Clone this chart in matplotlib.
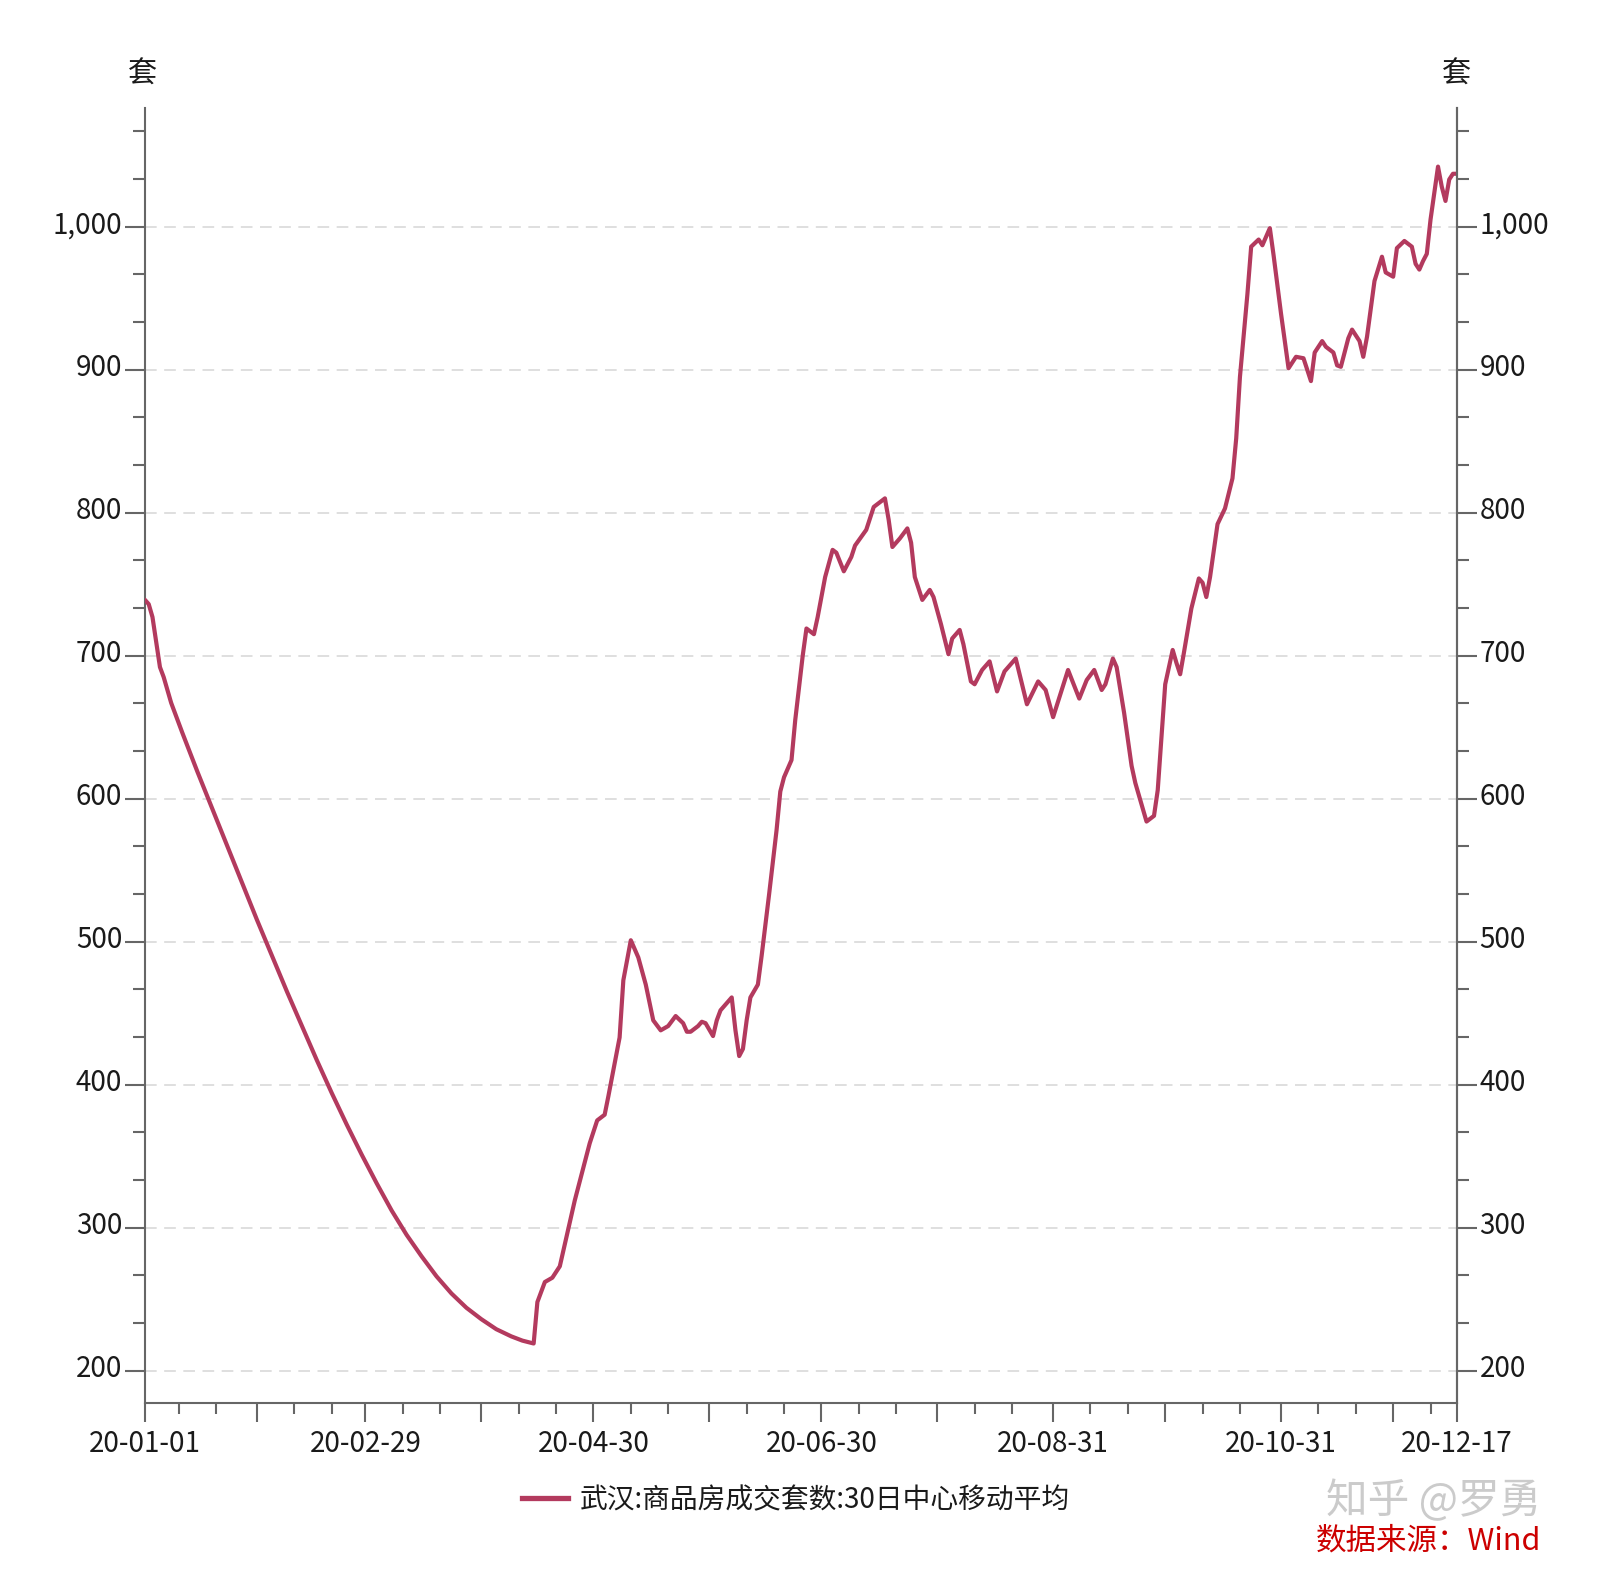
import matplotlib
matplotlib.use("Agg")
import matplotlib.pyplot as plt
import matplotlib.transforms as mtransforms
from matplotlib.lines import Line2D
from matplotlib.ticker import FuncFormatter, FixedLocator
import pandas as pd

plt.rcParams['font.family'] = ['Noto Sans CJK SC', 'DejaVu Sans']

# ---------------- data ----------------
dates = [
    "2020-01-01", "2020-01-02", "2020-01-03", "2020-01-05", "2020-01-06", "2020-01-08",
    "2020-01-11", "2020-01-15", "2020-01-19", "2020-01-23", "2020-01-27", "2020-01-31",
    "2020-02-04", "2020-02-08", "2020-02-12", "2020-02-16", "2020-02-20", "2020-02-24",
    "2020-02-28", "2020-03-03", "2020-03-07", "2020-03-11", "2020-03-15", "2020-03-19",
    "2020-03-23", "2020-03-27", "2020-03-31", "2020-04-04", "2020-04-08", "2020-04-11",
    "2020-04-14", "2020-04-15",
    "2020-04-17", "2020-04-19", "2020-04-21", "2020-04-23", "2020-04-25", "2020-04-26",
    "2020-04-29", "2020-05-01", "2020-05-03", "2020-05-04", "2020-05-07", "2020-05-08",
    "2020-05-10", "2020-05-12", "2020-05-14", "2020-05-16", "2020-05-18", "2020-05-20",
    "2020-05-22", "2020-05-24", "2020-05-25", "2020-05-26", "2020-05-28", "2020-05-29",
    "2020-05-30", "2020-06-01", "2020-06-02", "2020-06-03", "2020-06-05", "2020-06-06",
    "2020-06-07", "2020-06-08", "2020-06-09", "2020-06-10", "2020-06-11", "2020-06-13",
    "2020-06-14", "2020-06-16", "2020-06-18", "2020-06-19", "2020-06-20", "2020-06-22",
    "2020-06-23", "2020-06-25", "2020-06-26", "2020-06-28", "2020-06-29", "2020-07-01",
    "2020-07-03", "2020-07-04", "2020-07-06", "2020-07-08", "2020-07-09", "2020-07-12",
    "2020-07-14", "2020-07-15", "2020-07-17", "2020-07-18", "2020-07-19", "2020-07-21",
    "2020-07-23", "2020-07-24", "2020-07-25", "2020-07-27", "2020-07-29", "2020-07-30",
    "2020-08-01", "2020-08-03", "2020-08-04", "2020-08-06", "2020-08-07", "2020-08-09",
    "2020-08-10", "2020-08-12", "2020-08-14", "2020-08-16", "2020-08-18", "2020-08-21",
    "2020-08-24", "2020-08-27", "2020-08-29", "2020-08-31", "2020-09-04", "2020-09-07",
    "2020-09-09", "2020-09-11", "2020-09-13", "2020-09-14", "2020-09-16", "2020-09-17",
    "2020-09-19", "2020-09-21", "2020-09-22", "2020-09-25", "2020-09-27", "2020-09-28",
    "2020-09-30", "2020-10-02", "2020-10-03", "2020-10-04", "2020-10-05", "2020-10-07",
    "2020-10-09", "2020-10-10", "2020-10-11", "2020-10-12", "2020-10-14", "2020-10-16",
    "2020-10-18", "2020-10-19", "2020-10-20", "2020-10-22", "2020-10-23", "2020-10-25",
    "2020-10-26", "2020-10-28", "2020-10-29", "2020-10-31", "2020-11-02", "2020-11-04",
    "2020-11-06", "2020-11-08", "2020-11-09", "2020-11-11", "2020-11-12", "2020-11-14",
    "2020-11-15", "2020-11-16", "2020-11-18", "2020-11-19", "2020-11-21", "2020-11-22",
    "2020-11-23", "2020-11-25", "2020-11-27", "2020-11-28", "2020-11-30", "2020-12-01",
    "2020-12-03", "2020-12-05", "2020-12-06", "2020-12-07", "2020-12-08", "2020-12-09",
    "2020-12-10", "2020-12-12", "2020-12-13", "2020-12-14", "2020-12-15", "2020-12-16",
    "2020-12-17",
]
values = [
    739, 736, 727, 692, 685, 667,
    646, 619, 593, 567, 541, 515,
    490, 465, 441, 417, 394, 372,
    351, 331, 312, 295, 280, 266,
    254, 244, 236, 229, 224, 221,
    219, 248,
    262, 265, 273, 296, 319, 329,
    359, 375, 379, 392, 433, 473,
    501, 489, 470, 445, 438, 441,
    448, 443, 437, 437, 441, 444,
    443, 434, 445, 452, 458, 461,
    438, 420, 425, 445, 461, 470,
    490, 533, 578, 605, 615, 627,
    655, 700, 719, 715, 727, 755,
    774, 772, 759, 769, 777, 788,
    804, 806, 810, 795, 776, 782,
    789, 779, 755, 739, 746, 741,
    722, 701, 712, 718, 708, 682,
    680, 690, 696, 675, 689, 698,
    666, 682, 676, 657, 690, 670,
    683, 690, 676, 680, 698, 692,
    660, 623, 611, 584, 588, 606,
    680, 704, 695, 687, 702, 733,
    754, 751, 741, 755, 792, 803,
    824, 852, 895, 953, 986, 991,
    987, 999, 980, 939, 901, 909,
    908, 892, 912, 920, 916, 912,
    903, 902, 922, 928, 920, 909,
    923, 962, 979, 968, 965, 985,
    990, 986, 974, 970, 976, 981,
    1005, 1042, 1028, 1018, 1033, 1037,
    1037,
]
series_name = "武汉:商品房成交套数:30日中心移动平均"
unit_label = "套"
y_ticks = [200, 300, 400, 500, 600, 700, 800, 900, 1000]
x_label_dates = ["2020-01-01", "2020-02-29", "2020-04-30", "2020-06-30",
                 "2020-08-31", "2020-10-31", "2020-12-17"]
x_start, x_end = "2020-01-01", "2020-12-17"
y_min, y_max = 177.6, 1083.2

# ---------------- style ----------------
LINE_COLOR = "#b33a5e"
AXIS_COLOR = "#666666"
GRID_COLOR = "#d9d9d9"
TXT = "#1a1a1a"
FS = 20

x = pd.to_datetime(dates)

fig = plt.figure(figsize=(16, 15.78), dpi=100)
L, R = 145 / 1600, 1456.7 / 1600
B, T = 1 - 1402.7 / 1578, 1 - 107.7 / 1578
ax = fig.add_axes([L, B, R - L, T - B])

ax.plot(x, values, color=LINE_COLOR, lw=3.0, solid_joinstyle="round",
        solid_capstyle="round", zorder=3)

ax.set_xlim(pd.Timestamp(x_start), pd.Timestamp(x_end))
ax.set_ylim(y_min, y_max)

# y ticks
minor_y = [t + k * 100 / 3 for t in y_ticks for k in (1, 2)]
minor_y = [v for v in minor_y if v < y_max]
fmt = FuncFormatter(lambda v, p: f"{v:,.0f}")
ax.yaxis.set_major_locator(FixedLocator(y_ticks))
ax.yaxis.set_minor_locator(FixedLocator(minor_y))
ax.yaxis.set_major_formatter(fmt)
ax.grid(axis="y", which="major", color=GRID_COLOR, lw=1.2,
        linestyle=(0, (7, 4.5)), zorder=1)

# x ticks: majors at month ends (+ ends), minors at 10th/20th
month_ends = pd.date_range("2020-01-31", "2020-11-30", freq="ME")
major_x = [pd.Timestamp(x_start)] + list(month_ends) + [pd.Timestamp(x_end)]
minor_x = [pd.Timestamp(2020, m, d) for m in range(1, 13) for d in (10, 20)
           if pd.Timestamp(2020, m, d) < pd.Timestamp(x_end)]
ax.set_xticks(major_x)
lab_set = set(pd.to_datetime(x_label_dates))
ax.set_xticklabels([t.strftime("%y-%m-%d") if t in lab_set else "" for t in major_x])
ax.set_xticks(minor_x, minor=True)

ax.spines["top"].set_visible(False)
for s in ["left", "bottom", "right"]:
    ax.spines[s].set_color(AXIS_COLOR)
    ax.spines[s].set_linewidth(1.5)

ax.tick_params(axis="y", which="major", length=14.4, width=1.5, color=AXIS_COLOR,
               pad=2, labelsize=FS, labelcolor=TXT)
ax.tick_params(axis="y", which="minor", length=8.6, width=1.5, color=AXIS_COLOR)
ax.tick_params(axis="x", which="major", length=13.7, width=1.5, color=AXIS_COLOR,
               pad=5, labelsize=FS, labelcolor=TXT)
ax.tick_params(axis="x", which="minor", length=8, width=1.5, color=AXIS_COLOR)

# right axis (mirror)
ax2 = ax.twinx()
ax2.set_ylim(y_min, y_max)
ax2.yaxis.set_major_locator(FixedLocator(y_ticks))
ax2.yaxis.set_minor_locator(FixedLocator(minor_y))
ax2.yaxis.set_major_formatter(fmt)
for s in ["top", "left", "bottom"]:
    ax2.spines[s].set_visible(False)
ax2.spines["right"].set_color(AXIS_COLOR)
ax2.spines["right"].set_linewidth(1.5)
ax2.tick_params(axis="y", which="major", length=14.4, width=1.5, color=AXIS_COLOR,
                pad=2, labelsize=FS, labelcolor=TXT)
ax2.tick_params(axis="y", which="minor", length=8.6, width=1.5, color=AXIS_COLOR)

# nudge y tick labels upward a little
up = mtransforms.ScaledTranslation(0, 5 / 100, fig.dpi_scale_trans)
for a in (ax, ax2):
    for lab in a.get_yticklabels():
        lab.set_transform(lab.get_transform() + up)

# unit labels
fig.text(143 / 1600, 1 - 75 / 1578, unit_label, ha="center", va="center",
         fontsize=FS + 1, color=TXT)
fig.text(1456.7 / 1600, 1 - 75 / 1578, unit_label, ha="center", va="center",
         fontsize=FS + 1, color=TXT)

# legend
handle = Line2D([], [], color=LINE_COLOR, lw=3.8)
fig.legend([handle], [series_name], loc="center",
           bbox_to_anchor=(796 / 1600, 1 - 1500 / 1578), frameon=False,
           fontsize=20, handlelength=1.65, handletextpad=0.45, labelcolor=TXT)

# watermark & source
fig.text(1434 / 1600, 1 - 1501 / 1578, "知乎 @罗勇", ha="center", va="center",
         fontsize=30, color="#cbcbcb")
fig.text(1428 / 1600, 1 - 1541 / 1578, "数据来源：Wind", ha="center", va="center",
         fontsize=22, color="#cc0000")

fig.savefig("out.png", dpi=100, facecolor="white")
